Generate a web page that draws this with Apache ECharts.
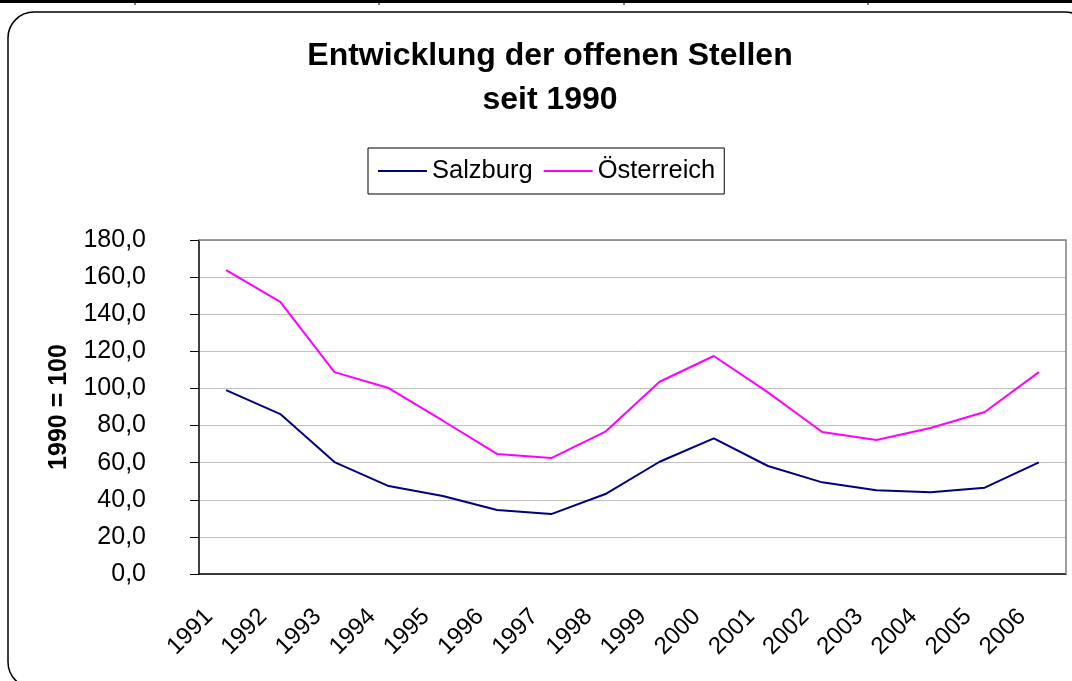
<!DOCTYPE html>
<html>
<head>
<meta charset="utf-8">
<script src="https://cdn.jsdelivr.net/npm/echarts@6/dist/echarts.min.js"></script>
<style>
  html, body { margin: 0; padding: 0; background: #fff; }
  #main { width: 1072px; height: 681px; }
</style>
</head>
<body>
<div id="main"></div>
<script>
// Jahre und Werte (1990 = 100)
const jahre = ['1991', '1992', '1993', '1994', '1995', '1996', '1997', '1998',
               '1999', '2000', '2001', '2002', '2003', '2004', '2005', '2006'];
const salzburg = [99.1, 86.2, 60.3, 47.4, 42.0, 34.5, 32.3, 43.1,
                  60.5, 73.1, 58.2, 49.4, 45.1, 44.0, 46.5, 60.2];
const oesterreich = [163.8, 146.7, 108.8, 100.2, 82.6, 64.7, 62.5, 76.7,
                     103.6, 117.5, 97.9, 76.5, 72.2, 78.7, 87.3, 108.8];
const yTicks = { min: 0, max: 180, interval: 20 };

const font = 'Liberation Sans, Arial, sans-serif';

const chart = echarts.init(document.getElementById('main'));

// Rahmen oben (Tabellenlinie) und abgerundeter Diagrammrahmen
const deko = [
  { type: 'rect', shape: { x: 0, y: 0, width: 1072, height: 3 }, style: { fill: '#000' } },
  { type: 'rect', shape: { x: 8, y: 12, width: 1083, height: 676, r: 26 },
    style: { fill: 'none', stroke: '#000', lineWidth: 1.5 } }
];
[135, 379, 624, 868].forEach(x => {
  deko.push({ type: 'line', shape: { x1: x, y1: 0, x2: x, y2: 5 }, style: { stroke: '#000', lineWidth: 1 } });
});
// Plotbereich: oben und rechts grau
deko.push({ type: 'polyline', shape: { points: [[199, 240], [1066, 240], [1066, 574]] },
            style: { stroke: '#808080', lineWidth: 1.5, fill: 'none' }, z: 5 });

const option = {
  animation: false,
  backgroundColor: '#fff',
  textStyle: { fontFamily: font, color: '#000' },
  title: {
    text: 'Entwicklung der offenen Stellen\nseit 1990',
    left: 545,
    textAlign: 'center',
    top: 29,
    textStyle: { fontFamily: font, fontSize: 32, fontWeight: 'bold', color: '#000', lineHeight: 44 }
  },
  legend: {
    left: 368,
    top: 148,
    padding: [10, 9, 10, 10],
    borderColor: '#000',
    borderWidth: 1,
    itemWidth: 49,
    itemHeight: 2,
    itemGap: 11,
    icon: 'rect',
    textStyle: { fontFamily: font, fontSize: 25.5, color: '#000' },
    data: ['Salzburg', 'Österreich']
  },
  grid: { left: 199, top: 240, right: 6, bottom: 107 },
  xAxis: {
    type: 'category',
    data: jahre,
    boundaryGap: true,
    axisLine: { lineStyle: { color: '#000', width: 1.5 } },
    axisTick: { length: 8, lineStyle: { color: '#000' } },
    axisLabel: { rotate: 45, fontSize: 24, fontFamily: font, color: '#000', margin: 22,
                 padding: [0, 24, 0, 0] },
    splitLine: { show: false }
  },
  yAxis: {
    type: 'value',
    min: yTicks.min,
    max: yTicks.max,
    interval: yTicks.interval,
    name: '1990 = 100',
    nameLocation: 'middle',
    nameRotate: 90,
    nameGap: 127,
    nameTextStyle: { fontFamily: font, fontSize: 25, fontWeight: 'bold', color: '#000' },
    axisLine: { show: true, lineStyle: { color: '#000', width: 1.5 } },
    axisTick: { show: true, length: 9, lineStyle: { color: '#000' } },
    axisLabel: {
      fontSize: 25, fontFamily: font, color: '#000', margin: 53,
      formatter: v => v.toFixed(1).replace('.', ',')
    },
    splitLine: { lineStyle: { color: '#c0c0c0', width: 1 } }
  },
  series: [
    { name: 'Salzburg', type: 'line', data: salzburg, symbol: 'none',
      lineStyle: { color: '#000080', width: 2 }, itemStyle: { color: '#000080' } },
    { name: 'Österreich', type: 'line', data: oesterreich, symbol: 'none',
      lineStyle: { color: '#ff00ff', width: 2 }, itemStyle: { color: '#ff00ff' } }
  ],
  graphic: deko
};

chart.setOption(option);
</script>
</body>
</html>
